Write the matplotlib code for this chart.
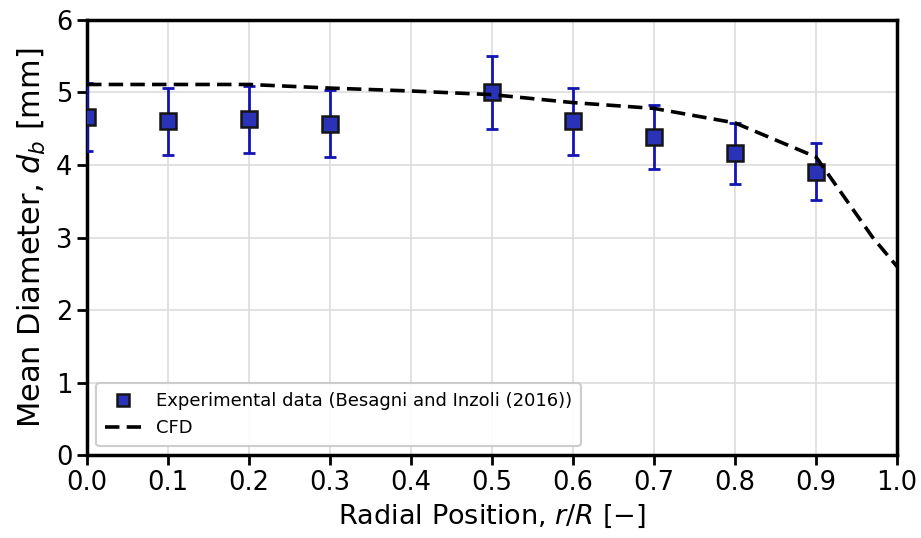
import numpy as np
import matplotlib
matplotlib.use("Agg")
import matplotlib.pyplot as plt

# experimental bubble size (Besagni and Inzoli, 2016)
r_exp = [0.0, 0.1, 0.2, 0.3, 0.5, 0.6, 0.7, 0.8, 0.9]
d_exp = [4.66, 4.60, 4.63, 4.57, 5.00, 4.60, 4.39, 4.16, 3.91]
d_err = [0.47, 0.46, 0.46, 0.46, 0.50, 0.46, 0.44, 0.42, 0.39]

# CFD radial profile
r_cfd = [0.0, 0.1, 0.2, 0.3, 0.4, 0.5, 0.6, 0.7, 0.8, 0.9, 0.97, 1.0]
d_cfd = [5.11, 5.11, 5.11, 5.06, 5.02, 4.97, 4.86, 4.78, 4.58, 4.11, 3.0, 2.6]

fig = plt.figure(figsize=(9.21, 5.38), dpi=100)
ax = fig.add_axes([0.0945, 0.154, 0.8795, 0.809])

ax.errorbar(r_exp, d_exp, yerr=d_err, fmt="none", ecolor="#1414b4",
            elinewidth=2, capsize=4, capthick=2, zorder=3)
ax.plot(r_exp, d_exp, "s", ms=12, mfc="#2a32b8", mec="#151515", mew=1.8,
        label="Experimental data (Besagni and Inzoli (2016))", zorder=4)
ax.plot(r_cfd, d_cfd, "k--", lw=2.6, dashes=(4, 2), label="CFD", zorder=5)

ax.set_xlim(0, 1)
ax.set_ylim(0, 6)
ax.set_xticks(np.arange(0, 1.01, 0.1))
ax.set_yticks(range(0, 7))
ax.grid(True, color="#dddddd", lw=1.2)
ax.set_axisbelow(True)

for s in ax.spines.values():
    s.set_linewidth(2.5)
ax.tick_params(width=2, length=7, labelsize=18.5)

ax.set_xlabel(r"Radial Position, $r/R$ [$-$]", fontsize=19.5, labelpad=5)
ax.set_ylabel(r"Mean Diameter, $d_b$ [mm]", fontsize=22, labelpad=6)

leg = ax.legend(loc="lower left", fontsize=13, markerscale=0.75,
                handlelength=2.0, borderpad=0.5, labelspacing=0.5,
                framealpha=0.9, edgecolor="#c8c8c8")
leg.get_frame().set_linewidth(1.5)

fig.savefig("out.png", dpi=100)
